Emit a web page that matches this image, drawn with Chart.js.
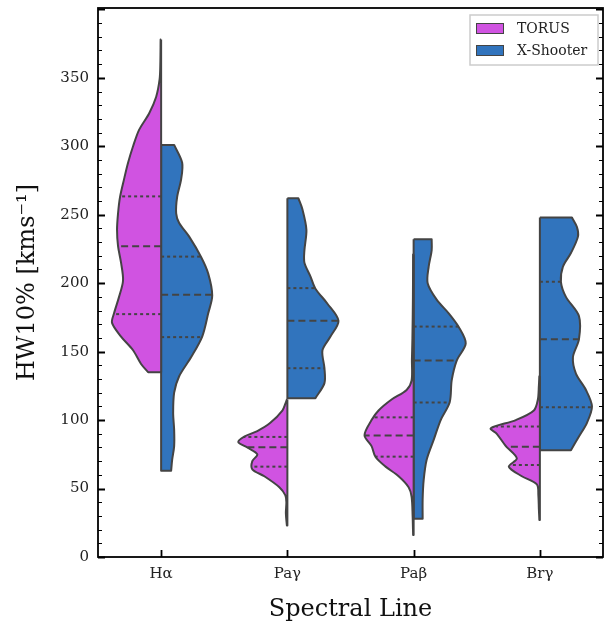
<!DOCTYPE html>
<html>
<head>
<meta charset="utf-8">
<script src="https://cdn.jsdelivr.net/npm/chart.js@4.4.1/dist/chart.umd.min.js"></script>
<style>
  body { margin: 0; background: #fff; }
  canvas { display: block; }
</style>
</head>
<body>
<canvas id="violin" width="605" height="623"></canvas>
<script>
// categories and series
let lines = ["H\u03b1", "Pa\u03b3", "Pa\u03b2", "Br\u03b3"];
let seriesNames = ["TORUS", "X-Shooter"];
let yTicks = [0, 50, 100, 150, 200, 250, 300, 350];

// density profiles: [HW10% value, half width]
let torusHa = [[378, 0.5], [360, 0.8], [349, 1.5], [336, 5], [324, 12], [312, 22], [300, 28], [288, 33],
    [276, 37], [263, 41], [251, 43], [239, 44], [227, 43], [215, 40], [202, 38], [190, 42], [178, 47],
    [171, 49], [161, 40], [151, 28], [141, 20], [135, 13]];
let torusPag = [[115, 0.5], [112, 2], [107, 5], [98, 17], [92, 30], [88, 43], [84, 49], [80, 40], [75, 30],
    [70, 35], [64, 35], [59, 23], [51, 8], [45, 2], [40, 1], [32, 1.5], [23, 0.5]];
let torusPab = [[221, 0.5], [190, 0.7], [160, 1.2], [144, 1.7], [129, 2], [122, 7], [115, 22], [107, 35],
    [100, 42], [89, 49], [81, 42], [73, 38], [66, 28], [59, 15], [51, 5], [44, 2], [30, 1], [16, 0.5]];
let torusBrg = [[132, 0.5], [125, 1], [115, 2], [107, 6], [100, 24], [94, 49], [90, 43], [81, 34], [72, 23],
    [66, 31], [59, 18], [53, 3], [45, 1.5], [35, 1], [27, 0.5]];

let xsHa = [[301, 13], [288, 21], [276, 20], [263, 16], [251, 15], [244, 18], [234, 28], [219, 40], [207, 47],
    [191, 51], [178, 47], [161, 41], [146, 30], [132, 18], [120, 13], [105, 12], [93, 13], [81, 13], [71, 11], [63, 10]];
let xsPag = [[262, 11], [254, 15], [239, 19], [224, 17], [215, 17], [205, 23], [196, 28], [185, 40], [172.5, 51],
    [161, 43], [151, 35], [138, 37], [127, 37], [116, 28]];
let xsPab = [[232, 18], [224, 18], [212, 15], [200, 14], [188, 23], [178, 35], [168, 45], [156, 52], [143.5, 43],
    [129, 38], [113, 36], [100, 27], [85.5, 20], [71, 13], [56, 10], [42, 9], [28, 9]];
let xsBrg = [[248, 32], [241, 37], [234, 38], [222, 31], [212, 23], [201, 21], [190, 26], [176, 39], [159, 39],
    [146, 33], [134, 36], [122, 46], [110, 52], [98, 47], [88, 39], [78, 31]];

// quartiles [Q3, median, Q1]
let torusQuart = [[263.4, 227, 177.4], [87.7, 80.2, 66], [102, 88.8, 73.3], [95.3, 80.6, 67.2]];
let xsQuart = [[219.4, 191.5, 160.6], [196.4, 172.5, 137.9], [168.3, 143.5, 112.8], [201, 159.1, 109.4]];

let torusProfiles = [torusHa, torusPag, torusPab, torusBrg];
let xsProfiles = [xsHa, xsPag, xsPab, xsBrg];

let colors = ["#d053e1", "#3174bd"];
let edgeColor = "#444444";
let widthScale = 1 / 126;   // density units -> category units
let serif = "'DejaVu Serif', 'Liberation Serif', serif";

// corner points are doubled so the spline keeps flat cuts, sharp corners and a straight centre line
function halfShape(profile, center, side) {
    let n = profile.length;
    let top = profile[0][0], bottom = profile[n - 1][0];
    let pts = [{x: center, y: top}, {x: center, y: top}];
    profile.forEach(function (p, k) {
        let pt = {x: center + side * p[1] * widthScale, y: p[0]};
        pts.push(pt);
        if (k === 0 || k === n - 1) pts.push({x: pt.x, y: pt.y});
    });
    pts.push({x: center, y: bottom}, {x: center, y: bottom});
    pts.push({x: center, y: top}, {x: center, y: top});
    return pts;
}

function widthAt(profile, v) {
    for (let i = 0; i < profile.length - 1; i++) {
        let a = profile[i], b = profile[i + 1];
        if (v <= a[0] && v >= b[0]) {
            let t = (a[0] - v) / (a[0] - b[0]);
            return a[1] + t * (b[1] - a[1]);
        }
    }
    return 0;
}

let datasets = [];
[torusProfiles, xsProfiles].forEach(function (profiles, s) {
    let side = s === 0 ? -1 : 1;
    let quarts = s === 0 ? torusQuart : xsQuart;
    profiles.forEach(function (profile, i) {
        datasets.push({
            label: seriesNames[s],
            data: halfShape(profile, i, side),
            backgroundColor: colors[s],
            borderColor: edgeColor,
            borderWidth: 2,
            borderJoinStyle: "round",
            fill: "shape",
            pointRadius: 0,
            tension: 0.3,
            order: 2
        });
        quarts[i].forEach(function (q, k) {
            let w = widthAt(profile, q);
            datasets.push({
                label: "",
                data: [{x: i, y: q}, {x: i + side * w * widthScale, y: q}],
                borderColor: edgeColor,
                borderWidth: 2,
                borderDash: k === 1 ? [7, 4] : [3, 3],
                fill: false,
                pointRadius: 0,
                order: 1
            });
        });
    });
});

let frameTicks = {
    id: "frameTicks",
    afterDraw: function (chart) {
        let ctx = chart.ctx, a = chart.chartArea, x = chart.scales.x, y = chart.scales.y;
        ctx.save();
        ctx.strokeStyle = "#000";
        for (let v = 0; v <= y.max; v += 10) {
            let py = Math.round(y.getPixelForValue(v)) + 0.5;
            let major = v % 50 === 0;
            let len = major ? 7 : 4;
            ctx.lineWidth = major ? 1.8 : 1.2;
            ctx.beginPath();
            ctx.moveTo(a.left, py); ctx.lineTo(a.left + len, py);
            ctx.moveTo(a.right, py); ctx.lineTo(a.right - len, py);
            ctx.stroke();
        }
        ctx.lineWidth = 1.8;
        lines.forEach(function (l, i) {
            let px = Math.round(x.getPixelForValue(i)) + 0.5;
            ctx.beginPath();
            ctx.moveTo(px, a.bottom); ctx.lineTo(px, a.bottom - 7);
            ctx.stroke();
        });
        ctx.lineWidth = 1.8;
        ctx.strokeRect(a.left, a.top, a.right - a.left, a.bottom - a.top);

        // legend box
        let lx = a.right - 133, ly = a.top + 7;
        ctx.fillStyle = "rgba(255,255,255,0.8)";
        ctx.strokeStyle = "#cccccc";
        ctx.lineWidth = 1.5;
        ctx.fillRect(lx, ly, 128, 50);
        ctx.strokeRect(lx, ly, 128, 50);
        ctx.font = "14px " + serif;
        ctx.textBaseline = "middle";
        seriesNames.forEach(function (name, s) {
            let ry = ly + 8 + s * 22;
            ctx.fillStyle = colors[s];
            ctx.fillRect(lx + 6, ry, 28, 11);
            ctx.strokeStyle = "#444";
            ctx.lineWidth = 1;
            ctx.strokeRect(lx + 6.5, ry + 0.5, 27, 10);
            ctx.fillStyle = "#222";
            ctx.fillText(name, lx + 47, ry + 6);
        });
        ctx.restore();
    }
};

new Chart(document.getElementById("violin"), {
    type: "line",
    data: {datasets: datasets},
    options: {
        responsive: false,
        animation: false,
        layout: {padding: {top: 8, right: 2, left: 0, bottom: 0}},
        plugins: {legend: {display: false}, tooltip: {enabled: false}},
        scales: {
            x: {
                type: "linear",
                min: -0.5,
                max: 3.5,
                afterFit: function (scale) {
                    scale.height = 66;
                    scale.paddingLeft = 0;
                    scale.paddingRight = 0;
                },
                afterBuildTicks: function (scale) {
                    scale.ticks = lines.map(function (l, i) { return {value: i}; });
                },
                ticks: {
                    callback: function (v) { return lines[v]; },
                    font: {family: serif, size: 15},
                    color: "#222",
                    padding: 8,
                    maxRotation: 0
                },
                grid: {display: false, drawTicks: false},
                border: {display: false},
                title: {
                    display: true,
                    text: "Spectral Line",
                    font: {family: serif, size: 24, lineHeight: 1.1},
                    color: "#111",
                    padding: {top: 0, bottom: 0}
                }
            },
            y: {
                min: 0,
                max: 401,
                afterFit: function (scale) {
                    scale.width = 98;
                    scale.paddingTop = 0;
                    scale.paddingBottom = 0;
                },
                afterBuildTicks: function (scale) {
                    scale.ticks = yTicks.map(function (v) { return {value: v}; });
                },
                ticks: {
                    font: {family: serif, size: 15},
                    color: "#222",
                    padding: 9
                },
                grid: {display: false, drawTicks: false},
                border: {display: false},
                title: {
                    display: true,
                    text: "HW10% [kms\u207b\u00b9]",
                    font: {family: serif, size: 24},
                    color: "#111",
                    padding: {top: 13, bottom: 0}
                }
            }
        }
    },
    plugins: [frameTicks]
});
</script>
</body>
</html>
